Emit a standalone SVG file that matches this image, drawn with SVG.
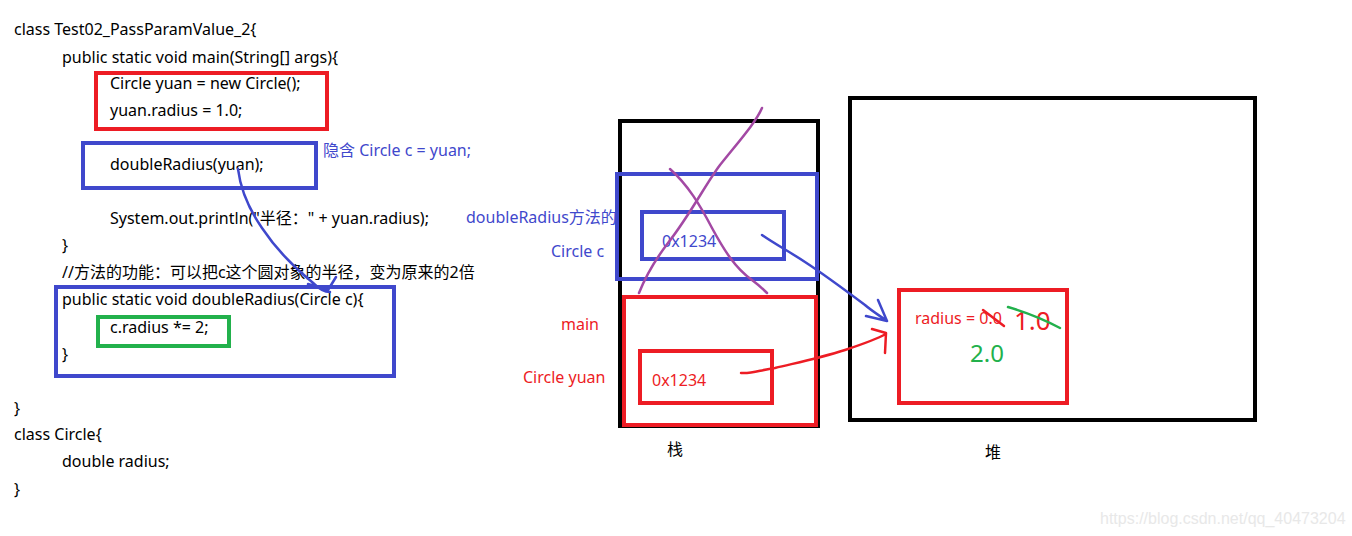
<svg xmlns="http://www.w3.org/2000/svg" width="1352" height="536" viewBox="0 0 1352 536">
<style>
text{font-family:"Noto Sans","Noto Sans CJK SC",sans-serif;font-size:16px;fill:#000}
.b{fill:#3f48cc}
.r{fill:#ed1c24}
.g{fill:#22b14c}
.box{fill:none;stroke-width:4}
.kb{stroke:#000}
.rb{stroke:#ed1c24}
.bb{stroke:#3f48cc}
.gb{stroke:#22b14c}
.hand{fill:none;stroke-width:2.5;stroke-linecap:round;stroke-linejoin:round}
</style>
<rect width="1352" height="536" fill="#fff"/>
<g id="code">
<text x="14" y="35">class Test02_PassParamValue_2{</text>
<text x="62" y="63">public static void main(String[] args){</text>
<text x="110" y="89">Circle yuan = new Circle();</text>
<text x="110" y="116">yuan.radius = 1.0;</text>
<text x="110" y="170">doubleRadius(yuan);</text>
<text x="110" y="224">System.out.println("半径：" + yuan.radius);</text>
<text x="62" y="251">}</text>
<text x="62" y="278">//方法的功能：可以把c这个圆对象的半径，变为原来的2倍</text>
<text x="62" y="305">public static void doubleRadius(Circle c){</text>
<text x="110" y="333">c.radius *= 2;</text>
<text x="62" y="360">}</text>
<text x="14" y="414">}</text>
<text x="14" y="440">class Circle{</text>
<text x="62" y="467">double radius;</text>
<text x="14" y="495">}</text>
</g>
<g id="code-boxes">
<rect id="box-create" class="box rb" x="96" y="73" width="231" height="56"/>
<rect id="box-call" class="box bb" x="83" y="143" width="233" height="45"/>
<text class="b" x="323" y="156">隐含 Circle c = yuan;</text>
<rect id="box-method" class="box bb" x="56" y="287" width="338" height="89"/>
<rect id="box-body" class="box gb" x="98" y="317" width="131" height="29"/>
</g>
<g id="stack">
<rect class="box kb" x="620" y="121" width="198" height="305"/>
<rect id="frame-double" class="box bb" x="617" y="174" width="200" height="105"/>
<rect class="box bb" x="642" y="212" width="142" height="47"/>
<text class="b" x="662" y="247">0x1234</text>
<rect id="frame-main" class="box rb" x="624" y="297" width="192" height="128"/>
<rect class="box rb" x="640" y="351" width="132" height="52"/>
<text class="r" x="652" y="386">0x1234</text>
<text class="b" x="466" y="223">doubleRadius方法的</text>
<text class="b" x="551" y="257">Circle c</text>
<text class="r" x="561" y="330">main</text>
<text class="r" x="523" y="383">Circle yuan</text>
<text x="667" y="455">栈</text>
</g>
<g id="heap">
<rect class="box kb" x="850" y="98" width="405" height="322"/>
<rect id="circle-obj" class="box rb" x="899" y="290" width="168" height="113"/>
<text class="r" x="915" y="324">radius = 0.0</text>
<text class="r" x="1014" y="330" style="font-size:26px">1.0</text>
<text class="g" x="970" y="362" style="font-size:24px">2.0</text>
<text x="985" y="458">堆</text>
</g>
<g id="connectors">
<path class="hand" stroke="#a349a4" d="M762,108 C756,122 740,140 720,165 C705,185 690,215 668,243 C655,260 645,278 639,293"/>
<path class="hand" stroke="#a349a4" d="M670,169 C688,185 700,205 712,228 C724,250 735,268 752,280 C760,286 764,290 767,293"/>
<path class="hand" stroke="#3f48cc" d="M238,169 C240,185 246,205 262,228 C278,252 295,268 312,282 C318,288 324,292 330,292 M308,284 L328,290 L336,277"/>
<path class="hand" stroke="#3f48cc" d="M762,235 C775,244 790,252 805,262 C825,275 845,290 865,305 C872,311 880,316 887,321 M866,316 L887,321 L878,300"/>
<path class="hand" stroke="#ed1c24" d="M741,373 C752,374 760,370 775,368 C800,362 820,358 845,350 C860,345 875,340 886,334 M872,329 L886,333 L885,353"/>
<path class="hand" stroke="#ed1c24" d="M983,310 L1004,326"/>
<path class="hand" stroke="#22b14c" d="M1008,307 C1025,312 1045,320 1060,328"/>
</g>
<text x="1100" y="524" style="font-family:'Liberation Sans',sans-serif;font-size:16px;fill:#e8e8e8">https://blog.csdn.net/qq_40473204</text>
</svg>
